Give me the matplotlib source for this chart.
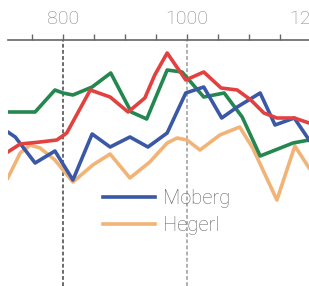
import numpy as np
import matplotlib.pyplot as plt
from matplotlib.ticker import MultipleLocator

plt.rcParams['font.family'] = ['Roboto', 'DejaVu Sans']
plt.rcParams['font.weight'] = 'light'

# Values (year, anomaly)
moberg_years = [711, 723, 755, 787, 816, 847, 876, 908, 937, 968, 998, 1027, 1056, 1081, 1118, 1142, 1173, 1197]
moberg_vals = [0.18, 0.13, -0.13, -0.01, -0.30, 0.16, 0.03, 0.13, 0.03, 0.17, 0.57, 0.63, 0.32, 0.43, 0.57, 0.25, 0.32, 0.10]

hegerl_years = [711, 731, 747, 763, 787, 816, 848, 876, 908, 940, 968, 984, 1000, 1021, 1053, 1085, 1106, 1145, 1174, 1197]
hegerl_vals = [-0.28, -0.03, 0.05, 0.02, -0.10, -0.32, -0.15, -0.04, -0.28, -0.12, 0.07, 0.12, 0.10, 0.00, 0.15, 0.23, 0.02, -0.50, 0.04, -0.18]

green_years = [711, 755, 787, 800, 816, 847, 877, 910, 935, 968, 992, 1027, 1060, 1089, 1118, 1171, 1197]
green_vals = [0.38, 0.38, 0.60, 0.57, 0.55, 0.63, 0.77, 0.38, 0.31, 0.80, 0.78, 0.53, 0.57, 0.33, -0.06, 0.07, 0.10]

red_years = [711, 731, 763, 790, 806, 844, 876, 905, 932, 948, 968, 998, 1027, 1055, 1081, 1103, 1124, 1145, 1173, 1197]
red_vals = [-0.02, 0.06, 0.08, 0.10, 0.17, 0.60, 0.53, 0.38, 0.52, 0.75, 0.97, 0.70, 0.78, 0.62, 0.60, 0.50, 0.37, 0.32, 0.32, 0.27]

marked_years = [800, 1000]

fig = plt.figure(figsize=(3.09, 2.86), dpi=100)
ax = fig.add_axes([8 / 309, 0, 334 / 309, 246 / 286])

lw = 2.6
ax.plot(hegerl_years, hegerl_vals, color='#f2b476', lw=lw, label='Hegerl', zorder=2)
ax.plot(green_years, green_vals, color='#23874f', lw=lw, zorder=3)
ax.plot(moberg_years, moberg_vals, color='#3b58a6', lw=lw, label='Moberg', zorder=4)
ax.plot(red_years, red_vals, color='#e2413f', lw=lw, zorder=5)

ax.axvline(marked_years[0], color='#444444', lw=1.1, ls=(0, (2.5, 1.5)), zorder=1)
ax.axvline(marked_years[1], color='#9a9a9a', lw=1.1, ls=(0, (2.5, 1.5)), zorder=1)

ax.set_xlim(711.3, 1250)
ax.set_ylim(-1.36, 1.10)

for s in ['left', 'right', 'bottom']:
    ax.spines[s].set_visible(False)
ax.spines['top'].set_color('#666666')
ax.spines['top'].set_linewidth(1.2)

ax.xaxis.tick_top()
ax.xaxis.set_major_locator(MultipleLocator(200))
ax.xaxis.set_minor_locator(MultipleLocator(50))
ax.tick_params(axis='x', which='both', direction='out', length=4.5, width=1, color='#666666')
ax.tick_params(axis='x', which='major', labelsize=14, labelcolor='#858585', pad=4)
ax.set_yticks([])

h, l = ax.get_legend_handles_labels()
order = [1, 0]
leg = ax.legend([h[i] for i in order], [l[i] for i in order],
                loc='upper left', bbox_to_anchor=(103 / 309, (286 - 189) / 286),
                bbox_transform=fig.transFigure, frameon=False, borderpad=0,
                borderaxespad=0, handlelength=2.6, handletextpad=0.4,
                labelspacing=0.42, fontsize=14.5)
for t in leg.get_texts():
    t.set_color('#656565')

fig.savefig('out.png', dpi=100)
